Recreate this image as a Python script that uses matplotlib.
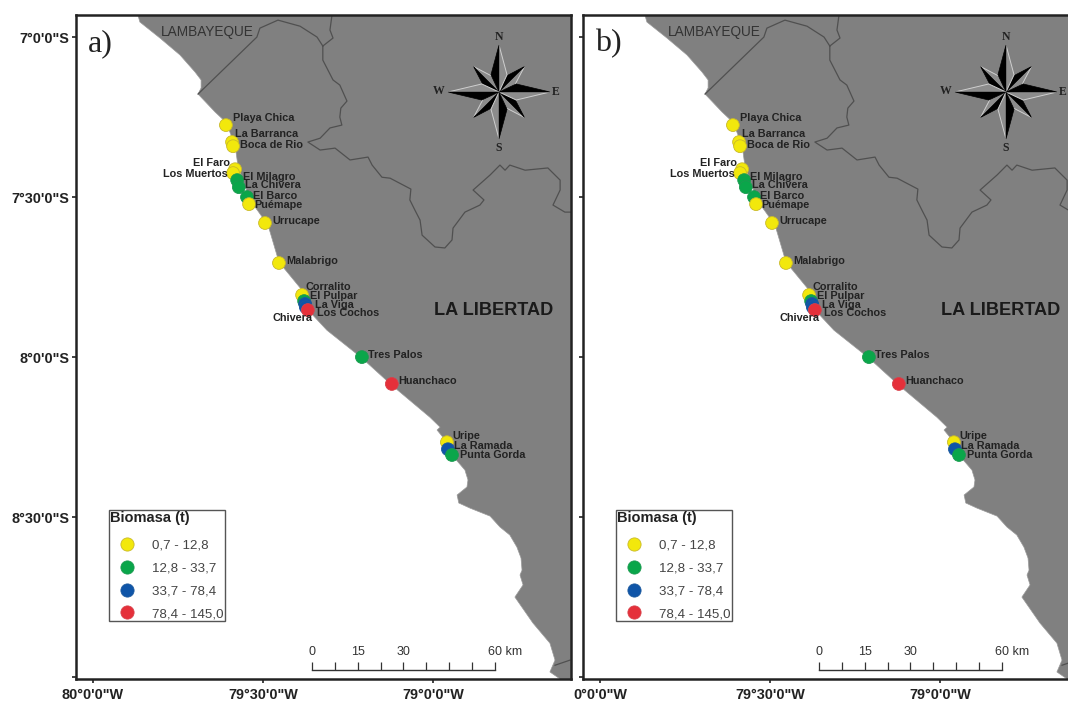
import numpy as np
import matplotlib
matplotlib.use('Agg')
import matplotlib.pyplot as plt
from matplotlib.lines import Line2D
from matplotlib.patches import Polygon

plt.rcParams['font.family'] = ['Liberation Sans', 'DejaVu Sans']

# Sitios de muestreo (lon, lat en grados) y clase de biomasa
sitios = ['Playa Chica', 'La Barranca', 'Boca de Rio', 'El Faro', 'Los Muertos', 'El Milagro',
          'La Chivera', 'El Barco', 'Puémape', 'Urrucape', 'Malabrigo', 'Corralito', 'El Pulpar',
          'La Viga', 'Chivera', 'Los Cochos', 'Tres Palos', 'Huanchaco', 'Uripe', 'La Ramada',
          'Punta Gorda']
sitios_lon = [-79.609, -79.591, -79.588, -79.582, -79.588, -79.576, -79.571, -79.547, -79.541,
              -79.494, -79.453, -79.385, -79.379, -79.376, -79.374, -79.368, -79.209, -79.121,
              -78.959, -78.956, -78.944]
sitios_lat = [-7.275, -7.328, -7.341, -7.413, -7.425, -7.447, -7.469, -7.500, -7.522,
              -7.581, -7.706, -7.806, -7.825, -7.834, -7.844, -7.853, -8.000, -8.084,
              -8.266, -8.288, -8.306]
sitios_clase = [0, 0, 0, 0, 0, 1, 1, 1, 0, 0, 0, 0, 1, 2, 2, 3, 1, 3, 0, 2, 1]

clases = ['0,7 - 12,8', '12,8 - 33,7', '33,7 - 78,4', '78,4 - 145,0']

# Linea de costa
costa_lon = [-79.868, -79.862, -79.803, -79.744, -79.700, -79.682, -79.682, -79.691, -79.641,
             -79.609, -79.582, -79.574, -79.559, -79.538, -79.485, -79.453, -79.385, -79.362,
             -79.312, -79.209, -79.121, -79.009, -78.979, -78.988, -78.971, -78.944, -78.906,
             -78.897, -78.900, -78.929, -78.924, -78.891, -78.832, -78.803, -78.774, -78.753,
             -78.741, -78.738, -78.744, -78.735, -78.759, -78.706, -78.656, -78.641, -78.656,
             -78.626, -78.594, -78.594]
costa_lat = [-6.931, -6.953, -7.003, -7.056, -7.109, -7.134, -7.159, -7.178, -7.234,
             -7.266, -7.338, -7.400, -7.447, -7.509, -7.588, -7.703, -7.791, -7.859,
             -7.916, -8.003, -8.088, -8.188, -8.219, -8.228, -8.250, -8.306, -8.353,
             -8.384, -8.406, -8.431, -8.456, -8.472, -8.497, -8.531, -8.556, -8.594,
             -8.628, -8.666, -8.681, -8.712, -8.750, -8.831, -8.894, -8.947, -8.984,
             -9.006, -9.006, -6.931]

# Limites departamentales
limite1_lon = [-79.691, -79.518, -79.509, -79.456, -79.391, -79.341, -79.324]
limite1_lat = [-7.178, -7.000, -6.972, -6.947, -6.966, -7.000, -7.028]
limite2_lon = [-79.324, -79.294, -79.303, -79.297]
limite2_lat = [-7.028, -7.003, -6.978, -6.931]
limite3_lon = [-79.324, -79.324, -79.309, -79.294, -79.274, -79.253, -79.271, -79.274, -79.268,
               -79.303, -79.332, -79.368, -79.332, -79.288, -79.244, -79.191, -79.179, -79.150,
               -79.126, -79.065, -79.068, -79.053, -79.038, -79.032, -78.994, -78.965, -78.944,
               -78.941, -78.906, -78.862, -78.850, -78.882, -78.832, -78.803, -78.788, -78.774,
               -78.729, -78.662, -78.626, -78.626, -78.647, -78.612, -78.594]
limite3_lat = [-7.028, -7.072, -7.103, -7.134, -7.150, -7.200, -7.222, -7.250, -7.275,
               -7.284, -7.316, -7.328, -7.353, -7.347, -7.384, -7.375, -7.400, -7.438,
               -7.441, -7.475, -7.509, -7.541, -7.572, -7.619, -7.656, -7.659, -7.634,
               -7.597, -7.547, -7.525, -7.509, -7.478, -7.431, -7.400, -7.416, -7.400,
               -7.416, -7.409, -7.447, -7.478, -7.525, -7.547, -7.547]
limite4_lon = [-78.641, -78.597]
limite4_lat = [-8.963, -8.947]

# Ticks
lat_ticks = [-7.0, -7.5, -8.0, -8.5, -9.0]
lat_labels = ['7°0\'0"S', '7°30\'0"S', '8°0\'0"S', '8°30\'0"S', '']
lon_ticks = [-80.0, -79.5, -79.0]
lon_labels_a = ['80°0\'0"W', '79°30\'0"W', '79°0\'0"W']
lon_labels_b = ['0°0\'0"W', '79°30\'0"W', '79°0\'0"W']

# Escala grafica
escala_km = [0, 7.5, 15, 22.5, 30, 37.5, 45, 52.5, 60]
escala_texto = [0, 15, 30, 60]

# Estilos y posiciones (en pixeles de la figura)
ANCHO, ALTO = 1068, 702
colores = ['#f2e80c', '#0aa64a', '#0f55a8', '#e5303a']
bordes = ['#c9b92a', '#1b9a50', '#1d5a9e', '#d8404a']
GRIS = '#808080'
XMIN, XMAX = -80.05, -78.594
YMIN, YMAX = -9.006, -6.931
GRADOS_POR_KM = 0.00897

# (dx, dy, alineacion) de cada etiqueta respecto a su punto
etiquetas_pos = [(7, 7, 'left'), (3, 8, 'left'), (7, 1, 'left'), (-5, 6, 'right'), (-5, -1, 'right'),
                 (6, 3, 'left'), (6, 2, 'left'), (6, 1, 'left'), (5, -1, 'left'), (7, 2, 'left'),
                 (7, 2, 'left'), (3, 8, 'left'), (6, 5, 'left'), (10, -1, 'left'), (7, -11, 'right'),
                 (9, -3, 'left'), (6, 2, 'left'), (6, 3, 'left'), (5, 6, 'left'), (6, 3, 'left'),
                 (8, 0, 'left')]


def rosa_vientos(ax):
    # Rosa de los vientos en un eje interno medido en pixeles
    cx, cy, lado = 499 - 76, 679 - 92, 130
    ins = ax.inset_axes([(cx - lado / 2) / 495, (cy - lado / 2) / 664, lado / 495, lado / 664])
    ins.set_xlim(-65, 65)
    ins.set_ylim(-65, 65)
    ins.axis('off')
    # Primero las diagonales, las cardinales van encima
    for ang, radio, base in [(45, 36, 16), (135, 36, 16), (225, 36, 16), (315, 36, 16),
                             (0, 47, 19), (90, 51, 19), (180, 47, 19), (270, 51, 19)]:
        t = np.radians(ang)
        d = np.radians(25)
        punta = np.array([np.sin(t), np.cos(t)]) * radio
        der = np.array([np.sin(t + d), np.cos(t + d)]) * base
        izq = np.array([np.sin(t - d), np.cos(t - d)]) * base
        ins.add_patch(Polygon([(0, 0), punta, der], closed=True, fc='#8c8c8c', ec='#cfcfcf', lw=0.7))
        ins.add_patch(Polygon([(0, 0), punta, izq], closed=True, fc='black', ec='black', lw=0.5))
    for letra, x, y in [('N', 0, 55), ('S', 0, -56), ('W', -60, 1), ('E', 57, 0)]:
        ins.text(x, y, letra, family='Liberation Serif', fontsize=8.5, fontweight='bold',
                 color='#222222', ha='center', va='center')


def panel(izquierda, letra, lon_labels, con_lat):
    ax = fig.add_axes([izquierda / ANCHO, (ALTO - 679) / ALTO, 495 / ANCHO, 664 / ALTO])
    ax.set_xlim(XMIN, XMAX)
    ax.set_ylim(YMIN, YMAX)
    ax.add_patch(Polygon(np.column_stack([costa_lon, costa_lat]), closed=True, fc=GRIS, ec='#9a9a9a', lw=0.5))
    for lx, ly in [(limite1_lon, limite1_lat), (limite2_lon, limite2_lat),
                   (limite3_lon, limite3_lat), (limite4_lon, limite4_lat)]:
        ax.plot(lx, ly, color='#505050', lw=0.9)

    # Puntos en orden, los ultimos quedan encima
    ax.scatter(sitios_lon, sitios_lat, s=85, c=[colores[i] for i in sitios_clase],
               edgecolors=[bordes[i] for i in sitios_clase], linewidths=0.6, zorder=4)
    for nombre, x, y, (dx, dy, al) in zip(sitios, sitios_lon, sitios_lat, etiquetas_pos):
        ax.annotate(nombre, (x, y), xytext=(dx * 0.72, dy * 0.72), textcoords='offset points',
                    ha=al, va='center', fontsize=7.8, fontweight='bold', color='#222222', zorder=5)

    ax.text(-79.665, -6.985, 'LAMBAYEQUE', fontsize=9.8, color='#333333', ha='center', va='center')
    ax.text(-78.821, -7.854, 'LA LIBERTAD', fontsize=13.1, fontweight='bold', color='#1a1a1a', ha='center', va='center')
    ax.text(-80.015, -7.02, letra, family='Liberation Serif', fontsize=23, color='#222222', ha='left', va='center')

    ax.set_xticks(lon_ticks)
    ax.set_xticklabels(lon_labels, fontsize=10.4, fontweight='bold', color='#222222')
    ax.set_yticks(lat_ticks)
    ax.set_yticklabels(lat_labels if con_lat else [''] * 5, fontsize=10.4, fontweight='bold', color='#222222')
    ax.tick_params(length=3, width=1.2, pad=2, color='#222222')
    ax.tick_params(axis='x', pad=3.5)
    for lado in ax.spines.values():
        lado.set_linewidth(1.8)
        lado.set_color('#222222')

    # Escala grafica
    x0 = -79.356
    xs = [x0 + km * GRADOS_POR_KM for km in escala_km]
    ax.plot([xs[0], xs[-1]], [-8.978, -8.978], color='#333333', lw=1)
    ax.vlines(xs, -8.978, -8.953, color='#333333', lw=0.9)
    for km in escala_texto:
        if km == 60:
            ax.text(x0 + km * GRADOS_POR_KM - 0.02, -8.922, f'{km} km', fontsize=9, color='#333333',
                    ha='left', va='center')
        else:
            ax.text(x0 + km * GRADOS_POR_KM, -8.922, str(km), fontsize=9, color='#333333',
                    ha='center', va='center')

    # Leyenda
    handles = [Line2D([], [], ls='', marker='o', ms=9.5, mfc=c, mec=b, mew=0.6) for c, b in zip(colores, bordes)]
    ley = ax.legend(handles, clases, title='Biomasa (t)', loc='upper left',
                    bbox_to_anchor=((109 - 76) / 495, (679 - 510) / 664), fontsize=9.6,
                    labelspacing=0.79, handlelength=2.55, handletextpad=0.6, borderpad=0.1,
                    borderaxespad=0, fancybox=False, edgecolor='#555555', framealpha=1,
                    alignment='left', labelcolor='#444444')
    ley.get_title().set_fontsize(10.5)
    ley.get_title().set_fontweight('bold')
    ley.get_title().set_color('#222222')
    ley.get_frame().set_linewidth(1)
    ley._legend_box.sep = 10

    rosa_vientos(ax)
    return ax


fig = plt.figure(figsize=(ANCHO / 100, ALTO / 100), dpi=100)
panel(76, 'a)', lon_labels_a, True)
panel(583, 'b)', lon_labels_b, False)
fig.savefig('out.png', dpi=100)
